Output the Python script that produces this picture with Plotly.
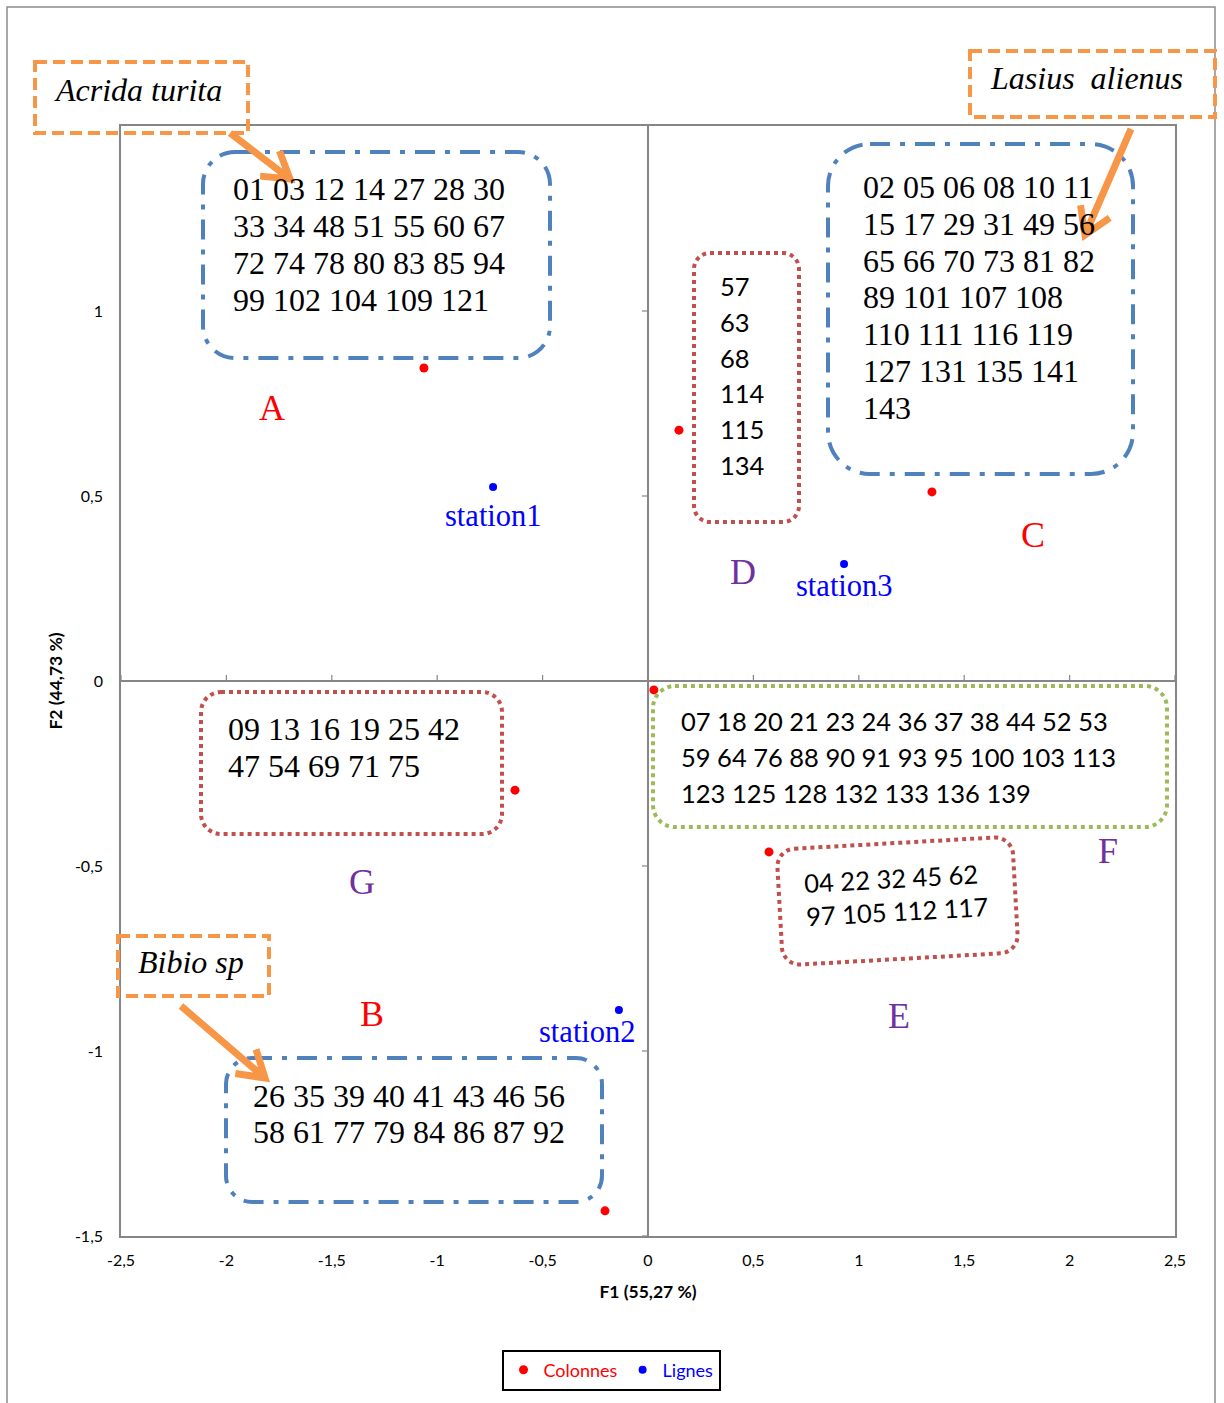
import math
import plotly.graph_objects as go

# ---- Correspondence analysis coordinates (F1, F2) ----
col_names = ["A", "B", "C", "D", "E", "F", "G"]
col_f1 = [-1.063, -0.204, 1.347, 0.147, 0.574, 0.028, -0.631]
col_f2 = [0.846, -1.432, 0.511, 0.678, -0.462, -0.024, -0.295]

row_names = ["station1", "station2", "station3"]
row_f1 = [-0.735, -0.138, 0.930]
row_f2 = [0.524, -0.889, 0.316]

x_ticks = [-2.5, -2, -1.5, -1, -0.5, 0, 0.5, 1, 1.5, 2, 2.5]
x_tick_text = ["-2,5", "-2", "-1,5", "-1", "-0,5", "0", "0,5", "1", "1,5", "2", "2,5"]
y_ticks = [-1.5, -1, -0.5, 0, 0.5, 1]
y_tick_text = ["-1,5", "-1", "-0,5", "0", "0,5", "1"]

# ---- Species numbers grouped with each column point ----
group_A = ["01 03 12 14 27 28 30", "33 34 48 51 55 60 67",
           "72 74 78 80 83 85 94", "99 102 104 109 121"]
group_C = ["02 05 06 08 10 11", "15 17 29 31 49 56", "65 66 70 73 81 82",
           "89 101 107 108", "110 111 116 119", "127 131 135 141", "143"]
group_D = ["57", "63", "68", "114", "115", "134"]
group_G = ["09 13 16 19 25 42", "47 54 69 71 75"]
group_F = ["07 18 20 21 23 24 36 37 38 44 52 53",
           "59 64 76 88 90 91 93 95 100 103 113",
           "123 125 128 132 133 136 139"]
group_E = ["04 22 32 45 62", "97 105 112 117"]
group_B = ["26 35 39 40 41 43 46 56", "58 61 77 79 84 86 87 92"]

species = ["Acrida turita", "Lasius  alienus", "Bibio sp"]

# ---- Page geometry (pixels) ----
W, H = 1224, 1403
L, R, T, B = 121, 1175, 126, 1236

SERIF = "Liberation Serif"
SANS = "Lato"
RED = "#FF0000"
BLUE = "#0000FF"
PURPLE = "#7030A0"
BOX_BLUE = "#4F81BD"
BOX_RED = "#C0504D"
BOX_GREEN = "#9BBB59"
ORANGE = "#F79646"
GRAY = "#868686"


def px(x):
    return (x - L) / (R - L)


def py(y):
    return (B - y) / (B - T)


def rounded_box(cx, cy, w, h, r, angle=0.0):
    """SVG path (paper coords) of a rounded rectangle given in pixels."""
    a = math.radians(angle)
    ca, sa = math.cos(a), math.sin(a)

    def pt(u, v):
        X = cx + u * ca - v * sa
        Y = cy + u * sa + v * ca
        return f"{px(X):.5f},{py(Y):.5f}"

    hw, hh, k = w / 2, h / 2, 0.5523 * r
    return " ".join([
        f"M {pt(-hw + r, -hh)}",
        f"L {pt(hw - r, -hh)}",
        f"C {pt(hw - r + k, -hh)} {pt(hw, -hh + r - k)} {pt(hw, -hh + r)}",
        f"L {pt(hw, hh - r)}",
        f"C {pt(hw, hh - r + k)} {pt(hw - r + k, hh)} {pt(hw - r, hh)}",
        f"L {pt(-hw + r, hh)}",
        f"C {pt(-hw + r - k, hh)} {pt(-hw, hh - r + k)} {pt(-hw, hh - r)}",
        f"L {pt(-hw, -hh + r)}",
        f"C {pt(-hw, -hh + r - k)} {pt(-hw + r - k, -hh)} {pt(-hw + r, -hh)}",
        "Z",
    ])


def arrow_path(tail, tip, arm=30, spread=32):
    """Straight shaft with an open chevron head, in paper coords."""
    dx, dy = tip[0] - tail[0], tip[1] - tail[1]
    back = math.atan2(-dy, -dx)
    pts = []
    for s in (spread, -spread):
        ang = back + math.radians(s)
        pts.append((tip[0] + arm * math.cos(ang), tip[1] + arm * math.sin(ang)))
    f = lambda p: f"{px(p[0]):.5f},{py(p[1]):.5f}"
    return (f"M {f(tail)} L {f(tip)} M {f(pts[0])} L {f(tip)} L {f(pts[1])}")


fig = go.Figure()

fig.add_trace(go.Scatter(
    x=col_f1, y=col_f2, mode="markers", name=f"<span style='color:{RED}'>Colonnes</span>",
    marker=dict(color=RED, size=9), hovertext=col_names,
))
fig.add_trace(go.Scatter(
    x=row_f1, y=row_f2, mode="markers", name=f"<span style='color:{BLUE}'>Lignes</span>",
    marker=dict(color=BLUE, size=8), hovertext=row_names,
))

shapes = []
annotations = []

# Tick marks sitting on the crossing axes
for v in x_ticks:
    if v == 0:
        continue
    shapes.append(dict(type="line", xref="x", yref="y", ysizemode="pixel", yanchor=0,
                       x0=v, x1=v, y0=0, y1=6, line=dict(color=GRAY, width=1.2)))
for v in y_ticks:
    if v == 0:
        continue
    shapes.append(dict(type="line", xref="x", yref="y", xsizemode="pixel", xanchor=0,
                       x0=-6, x1=0, y0=v, y1=v, line=dict(color=GRAY, width=1.2)))

# Outer frame of the chart area
shapes.append(dict(type="rect", xref="paper", yref="paper",
                   x0=px(7), x1=px(1215), y0=py(7), y1=py(1420),
                   line=dict(color="#8C8C8C", width=1.5), layer="below"))

# Group outlines
dashdot = "20px,10px,5px,10px"
dotted = "4px,4px"
boxes = [
    (376.5, 255, 347, 206, 32, 0, BOX_BLUE, dashdot),    # A
    (980.5, 309, 305, 330, 42, 0, BOX_BLUE, dashdot),    # C
    (746.5, 387.5, 105, 269, 16, 0, BOX_RED, dotted),    # D
    (351.5, 763, 301, 142, 20, 0, BOX_RED, dotted),      # G
    (910, 756.5, 514, 141, 22, 0, BOX_GREEN, dotted),    # F
    (897.5, 901, 236, 116, 18, -3.2, BOX_RED, dotted),   # E
    (414, 1130, 376, 144, 26, 0, BOX_BLUE, dashdot),     # B
]
for cx, cy, w, h, r, ang, col, dash in boxes:
    shapes.append(dict(type="path", xref="paper", yref="paper",
                       path=rounded_box(cx, cy, w, h, r, ang),
                       line=dict(color=col, width=4, dash=dash)))

# Species call-outs (dashed orange frames)
species_boxes = [(35, 62, 248, 133), (970, 51, 1215, 117), (118, 936, 269, 996)]
species_text_at = [(138, 93), (1086, 81), (191, 965)]
for (x0, y0, x1, y1), (tx, ty), name in zip(species_boxes, species_text_at, species):
    shapes.append(dict(type="rect", xref="paper", yref="paper",
                       x0=px(x0), x1=px(x1), y0=py(y0), y1=py(y1),
                       line=dict(color=ORANGE, width=4, dash="12px,6px")))
    annotations.append(dict(xref="paper", yref="paper", x=px(tx), y=py(ty - 3),
                            text=f"<i>{name}</i>", showarrow=False,
                            font=dict(family=SERIF, size=32, color="black"),
                            xanchor="center", yanchor="middle"))

# Orange arrows from call-outs to groups
arrows = [((230, 133), (290, 179)), ((1131, 129), (1085, 235)), ((181, 1006), (265, 1078))]
for tail, tip in arrows:
    shapes.append(dict(type="path", xref="paper", yref="paper",
                       path=arrow_path(tail, tip), line=dict(color=ORANGE, width=7)))


def add_lines(lines, x0, y0, step, family, size):
    for i, txt in enumerate(lines):
        annotations.append(dict(xref="paper", yref="paper", x=px(x0), y=py(y0 + i * step),
                                text=txt, showarrow=False, xanchor="left", yanchor="middle",
                                font=dict(family=family, size=size, color="black")))


add_lines(group_A, 231, 189, 37, SERIF, 32)
add_lines(group_C, 861, 187, 36.8, SERIF, 32)
add_lines(group_D, 718, 286, 35.8, SANS, 25.5)
add_lines(group_G, 226, 729, 37, SERIF, 32)
add_lines(group_F, 679, 721, 36, SANS, 25.5)
add_lines(group_B, 251, 1096, 36, SERIF, 32)
annotations.append(dict(xref="paper", yref="paper", x=px(896), y=py(894),
                        text="<br>".join(group_E), showarrow=False, textangle=-3.2,
                        align="left", xanchor="center", yanchor="middle",
                        font=dict(family=SANS, size=25.5, color="black")))

# Point labels
label_pos = {"A": (272, 408, RED), "B": (372, 1014, RED), "C": (1033, 535, RED),
             "D": (743, 572, PURPLE), "E": (899, 1016, PURPLE),
             "F": (1108, 851, PURPLE), "G": (362, 882, PURPLE)}
for name in col_names:
    x, y, c = label_pos[name]
    annotations.append(dict(xref="paper", yref="paper", x=px(x), y=py(y), text=name,
                            showarrow=False, xanchor="center", yanchor="middle",
                            font=dict(family=SERIF, size=36, color=c)))
station_pos = {"station1": (493, 516), "station2": (587, 1032), "station3": (844, 586)}
for name in row_names:
    x, y = station_pos[name]
    annotations.append(dict(xref="paper", yref="paper", x=px(x), y=py(y), text=name,
                            showarrow=False, xanchor="center", yanchor="middle",
                            font=dict(family=SERIF, size=30.5, color=BLUE)))

axis_common = dict(showgrid=False, zeroline=True, zerolinecolor=GRAY, zerolinewidth=1.5,
                   showline=True, mirror=True, linecolor=GRAY, linewidth=1.5,
                   ticks="", tickfont=dict(family=SANS, size=16, color="black"),
                   fixedrange=True)

fig.update_layout(
    width=W, height=H,
    margin=dict(l=L, r=W - R, t=T, b=H - B),
    paper_bgcolor="white", plot_bgcolor="white",
    xaxis=dict(range=[-2.5, 2.5], tickvals=x_ticks, ticktext=x_tick_text,
               ticklabelstandoff=9,
               title=dict(text="<b>F1 (55,27 %)</b>", standoff=18,
                          font=dict(family=SANS, size=17.5, color="black")),
               **axis_common),
    yaxis=dict(range=[-1.5, 1.5], tickvals=y_ticks, ticktext=y_tick_text,
               ticklabelstandoff=13,
               title=dict(text="<b>F2 (44,73 %)</b>", standoff=8,
                          font=dict(family=SANS, size=17.5, color="black")),
               **axis_common),
    showlegend=True,
    legend=dict(orientation="h", x=px(611), y=py(1370), xanchor="center", yanchor="middle",
                bordercolor="black", borderwidth=2, bgcolor="white",
                font=dict(family=SANS, size=18), itemwidth=30),
    shapes=shapes,
    annotations=annotations,
)

fig.write_html("out.html")
